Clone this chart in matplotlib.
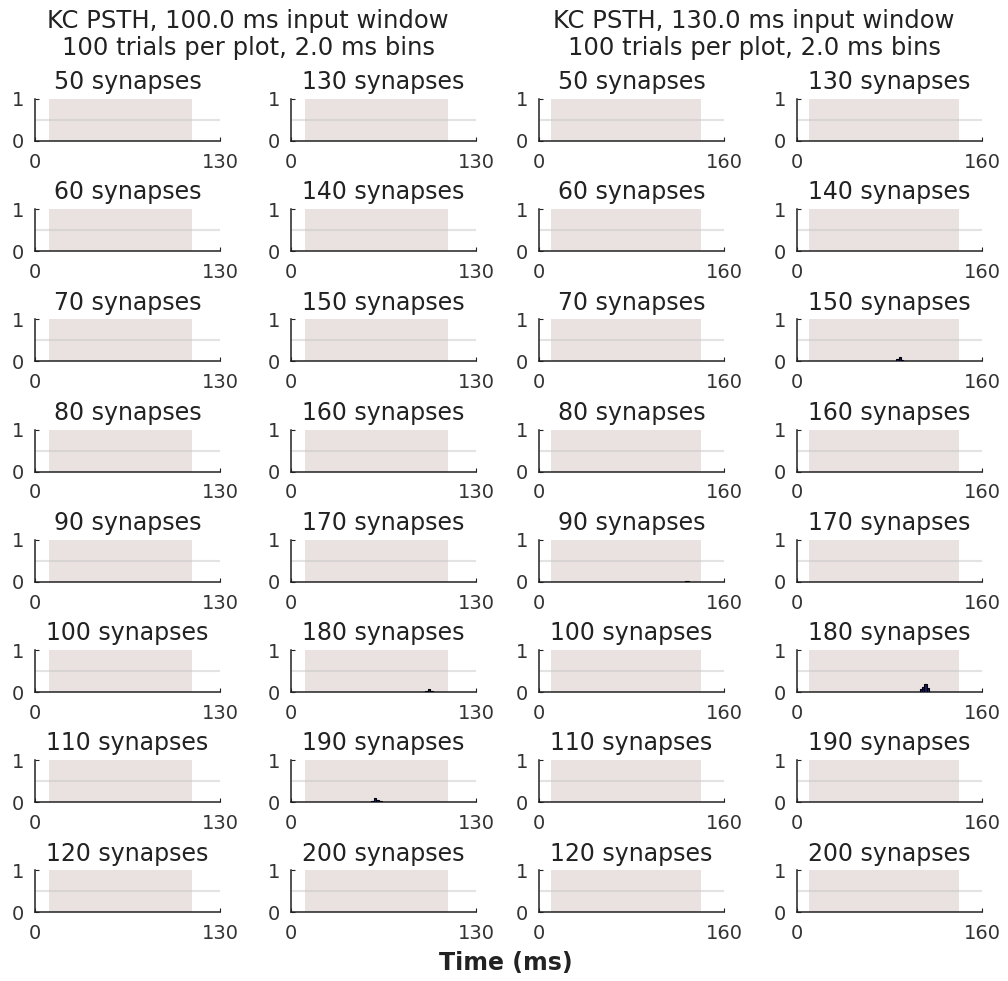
import numpy as np
import matplotlib
matplotlib.use("Agg")
import matplotlib.pyplot as plt

# synapse counts, two columns per input window
syn_left = [50, 60, 70, 80, 90, 100, 110, 120]
syn_right = [130, 140, 150, 160, 170, 180, 190, 200]

windows = [100.0, 130.0]
t_max = [130, 160]
trials = 100
bin_ms = 2.0

# nonzero PSTH bins (bin start in ms, spikes per trial per bin)
psth_100 = {
    180: ([94, 96, 98], [0.03, 0.06, 0.03]),
    190: ([56, 58, 60, 62], [0.04, 0.09, 0.05, 0.02]),
}
psth_130 = {
    90: ([126, 128], [0.02, 0.03]),
    150: ([86, 88, 90, 92], [0.05, 0.1, 0.04, 0.02]),
    180: ([106, 108, 110, 112], [0.06, 0.12, 0.2, 0.1]),
}

W, H = 1008, 981
fig = plt.figure(figsize=(W / 100, H / 100), dpi=100)

col_left = [35, 291, 539, 797]
ax_w = 185
row_top0 = 99
row_step = 110.2
ax_h = 42

shade = "#eae2e1"
spine_c = "#222222"

for g, (win, tm, psth) in enumerate(zip(windows, t_max, [psth_100, psth_130])):
    for c, syns in enumerate([syn_left, syn_right]):
        for r, n in enumerate(syns):
            x0 = col_left[2 * g + c]
            top = row_top0 + row_step * r
            ax = fig.add_axes([x0 / W, 1 - (top + ax_h) / H, ax_w / W, ax_h / H])
            ax.axvspan(10, 10 + win, color=shade, lw=0, zorder=0)
            ax.axhline(0.5, color="#c8c8c8", alpha=0.5, lw=1.5, zorder=1)
            if n in psth:
                t, h = psth[n]
                ax.bar(t, h, width=bin_ms, align="edge", color="midnightblue",
                       edgecolor="black", lw=0.8, zorder=3)
            ax.set_xlim(0, tm)
            ax.set_ylim(0, 1)
            ax.set_xticks([0, tm])
            ax.set_yticks([0, 1])
            for s in ["top", "right"]:
                ax.spines[s].set_visible(False)
            for s in ["left", "bottom"]:
                ax.spines[s].set_color(spine_c)
                ax.spines[s].set_linewidth(1.1)
            ax.tick_params(axis="x", direction="in", length=3, pad=8.5,
                           labelsize=14, colors=spine_c, labelcolor="#333333")
            ax.tick_params(axis="y", direction="in", length=3, pad=8,
                           labelsize=14, colors=spine_c, labelcolor="#333333")
            ax.set_title(f"{n} synapses", fontsize=17, pad=7, color="#222222")

    xc = [248, 754][g]
    fig.text(xc / W, 1 - 21 / H, f"KC PSTH, {win} ms input window",
             ha="center", va="center", fontsize=17.5, color="#222222")
    fig.text(xc / W, 1 - 48 / H, f"{trials} trials per plot, {bin_ms} ms bins",
             ha="center", va="center", fontsize=17.5, color="#222222")

fig.text(506 / W, 1 - 963 / H, "Time (ms)", ha="center", va="center",
         fontsize=17, fontweight="bold", color="#222222")

fig.savefig("out.png", dpi=100)
